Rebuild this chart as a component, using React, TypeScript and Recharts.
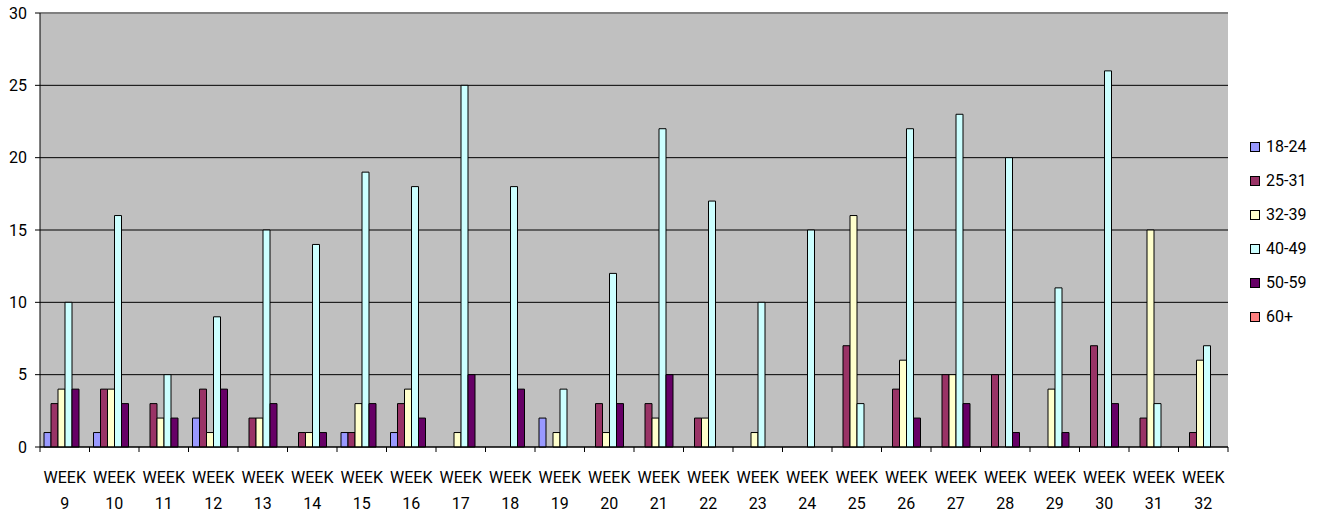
import React from "react";
import {
  BarChart,
  Bar,
  XAxis,
  YAxis,
  CartesianGrid,
  ReferenceLine,
} from "recharts";

const weeks = [
  "WEEK 9", "WEEK 10", "WEEK 11", "WEEK 12", "WEEK 13", "WEEK 14", "WEEK 15", "WEEK 16",
  "WEEK 17", "WEEK 18", "WEEK 19", "WEEK 20", "WEEK 21", "WEEK 22", "WEEK 23", "WEEK 24",
  "WEEK 25", "WEEK 26", "WEEK 27", "WEEK 28", "WEEK 29", "WEEK 30", "WEEK 31", "WEEK 32",
];

const age18_24 = [1, 1, 0, 2, 0, 0, 1, 1, 0, 0, 2, 0, 0, 0, 0, 0, 0, 0, 0, 0, 0, 0, 0, 0];
const age25_31 = [3, 4, 3, 4, 2, 1, 1, 3, 0, 0, 0, 3, 3, 2, 0, 0, 7, 4, 5, 5, 0, 7, 2, 1];
const age32_39 = [4, 4, 2, 1, 2, 1, 3, 4, 1, 0, 1, 1, 2, 2, 1, 0, 16, 6, 5, 0, 4, 0, 15, 6];
const age40_49 = [10, 16, 5, 9, 15, 14, 19, 18, 25, 18, 4, 12, 22, 17, 10, 15, 3, 22, 23, 20, 11, 26, 3, 7];
const age50_59 = [4, 3, 2, 4, 3, 1, 3, 2, 5, 4, 0, 3, 5, 0, 0, 0, 0, 2, 3, 1, 1, 3, 0, 0];
const age60plus = [0, 0, 0, 0, 0, 0, 0, 0, 0, 0, 0, 0, 0, 0, 0, 0, 0, 0, 0, 0, 0, 0, 0, 0];

const yTicks = [0, 5, 10, 15, 20, 25, 30];

const series = [
  { key: "a", name: "18-24", values: age18_24, color: "#9999FF" },
  { key: "b", name: "25-31", values: age25_31, color: "#993366" },
  { key: "c", name: "32-39", values: age32_39, color: "#FFFFCC" },
  { key: "d", name: "40-49", values: age40_49, color: "#CCFFFF" },
  { key: "e", name: "50-59", values: age50_59, color: "#660066" },
  { key: "f", name: "60+", values: age60plus, color: "#FF8080" },
];

const data = weeks.map((w, i) => {
  const row: any = { week: w };
  series.forEach((s) => {
    row[s.key] = s.values[i];
  });
  return row;
});

const FONT = "Roboto, 'Open Sans', sans-serif";

const WeekTick = (props: any) => {
  const { x, y, payload, index } = props;
  const parts = String(payload.value).split(" ");
  const half = payload && payload.offset ? payload.offset : 24.75;
  const isLast = index === weeks.length - 1;
  return (
    <g>
      <line x1={x - half} x2={x - half} y1={y} y2={y + 5} stroke="#000" strokeWidth={1} />
      {isLast ? (
        <line x1={x + half} x2={x + half} y1={y} y2={y + 5} stroke="#000" strokeWidth={1} />
      ) : null}
      <text x={x} y={y + 36} textAnchor="middle" fontFamily={FONT} fontSize={16} fill="#000">
        {parts[0]}
      </text>
      <text x={x} y={y + 62} textAnchor="middle" fontFamily={FONT} fontSize={16} fill="#000">
        {parts[1]}
      </text>
    </g>
  );
};

export default function App() {
  return (
    <div style={{ position: "absolute", left: 0, top: 0, width: 1322, height: 515 }}>
      <BarChart
        width={1322}
        height={515}
        data={data}
        margin={{ top: 13, right: 94, left: 0, bottom: 0 }}
        barGap={0}
        barSize={7}
      >
        <CartesianGrid
          horizontal={true}
          vertical={false}
          stroke="#000"
          strokeOpacity={1}
          fill="#C0C0C0"
          fillOpacity={1}
        />
        <XAxis
          dataKey="week"
          tick={<WeekTick />}
          tickLine={false}
          tickSize={0}
          tickMargin={0}
          interval={0}
          axisLine={{ stroke: "#000" }}
          height={68}
        />
        <YAxis
          domain={[0, 30]}
          ticks={yTicks}
          tickSize={5}
          tickMargin={8}
          tickLine={{ stroke: "#000" }}
          axisLine={{ stroke: "#000" }}
          tick={{ fill: "#000", fontFamily: FONT, fontSize: 16 }}
          width={40}
          interval={0}
        />
        <YAxis
          yAxisId="right"
          orientation="right"
          width={0}
          tick={false}
          tickLine={false}
          axisLine={{ stroke: "#808080", strokeWidth: 2 }}
        />
        <ReferenceLine y={30} stroke="#808080" strokeWidth={2} />
        {series.map((s) => (
          <Bar
            key={s.key}
            dataKey={s.key}
            name={s.name}
            fill={s.color}
            stroke="#000"
            strokeWidth={1}
            isAnimationActive={false}
          />
        ))}
      </BarChart>
      <div
        style={{
          position: "absolute",
          left: 1250,
          top: 136,
          fontFamily: FONT,
          fontSize: 16,
          color: "#000",
        }}
      >
        {series.map((s) => (
          <div
            key={s.key}
            style={{ display: "flex", alignItems: "center", height: 34, marginTop: 0 }}
          >
            <div
              style={{
                width: 8,
                height: 8,
                background: s.color,
                border: "1px solid #000",
                marginRight: 6,
                marginTop: -12,
              }}
            />
            <span style={{ marginTop: -12, lineHeight: "22px" }}>{s.name}</span>
          </div>
        ))}
      </div>
    </div>
  );
}
